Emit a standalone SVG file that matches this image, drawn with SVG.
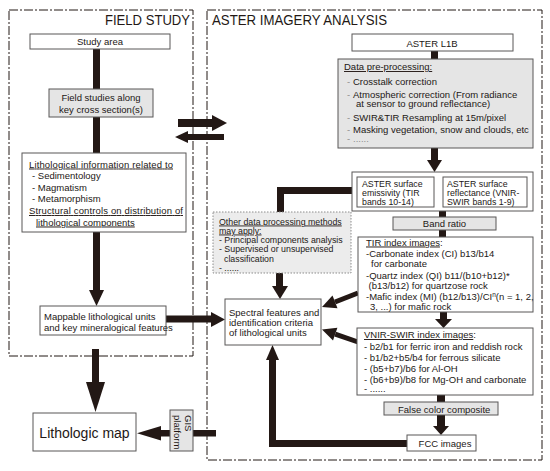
<svg xmlns="http://www.w3.org/2000/svg" width="550" height="471" viewBox="0 0 550 471">
<style>
.panel{fill:none;stroke:#231815;stroke-width:1;stroke-dasharray:9,2,2,2}
.box{fill:#fff;stroke:#595757;stroke-width:1}
.gbox{fill:#e5e5e5;stroke:#595757;stroke-width:1}
.dbox{fill:#ececec;stroke:#8c8c8c;stroke-width:1;stroke-dasharray:1.5,1.5}
.bar{fill:#231815}
.ln{fill:none;stroke:#231815;stroke-width:7}
.dl{fill:none;stroke:#231815;stroke-width:5}
text{font-family:"Liberation Sans",Arial,sans-serif;font-size:9.5px;fill:#231815}
.c{text-anchor:middle}
.u{text-decoration:underline}
.big{font-size:14px}
.gd{fill:#8c8c8c}
.s{font-size:8.8px}
</style>
<rect width="550" height="471" fill="#fff"/>
<g id="panels">
<rect class="panel" x="9" y="10" width="184" height="346"/>
<rect class="panel" x="207" y="10" width="335" height="450"/>
<text class="big" x="105" y="25" textLength="85" lengthAdjust="spacingAndGlyphs">FIELD STUDY</text>
<text class="big" x="212" y="25" textLength="175" lengthAdjust="spacingAndGlyphs">ASTER IMAGERY ANALYSIS</text>
</g>
<g id="connectors">
<rect class="bar" x="93" y="49" width="7" height="40"/>
<rect class="bar" x="93" y="117" width="7" height="36"/>
<rect class="bar" x="93" y="232" width="7" height="59"/>
<polygon class="bar" points="89,290 104,290 96.5,306"/>
<rect class="bar" x="166" y="315.5" width="47" height="7"/>
<polygon class="bar" points="211,312 211,327 225,319.5"/>
<rect class="bar" x="92" y="349" width="7" height="34"/>
<polygon class="bar" points="86,382 105,382 95.5,412"/>
<rect class="bar" x="178" y="119" width="35" height="8"/>
<polygon class="bar" points="212,115 212,131 227,123"/>
<rect class="bar" x="186" y="134" width="38" height="6"/>
<polygon class="bar" points="188,131 188,143 175,137"/>
<rect class="bar" x="431" y="51" width="7" height="8"/>
<rect class="bar" x="431" y="148" width="7" height="13"/>
<polygon class="bar" points="427,160 442,160 434.5,172"/>
<polyline class="ln" points="352,190.5 280.5,190.5 280.5,212"/>
<rect class="bar" x="439" y="211" width="7" height="6"/>
<rect class="bar" x="439" y="230" width="7" height="7"/>
<rect class="bar" x="276" y="273" width="7" height="14"/>
<polygon class="bar" points="272,286 288,286 280,299"/>
<line class="dl" x1="358" y1="293" x2="335" y2="302"/>
<polygon class="bar" points="332.5,295.6 337.5,308.2 322,307"/>
<line class="dl" x1="358" y1="342" x2="335.2" y2="334.1"/>
<polygon class="bar" points="337.4,327.8 333,340.4 322,329.5"/>
<rect class="bar" x="440" y="312" width="7" height="8"/>
<polygon class="bar" points="435,319 452,319 443.5,328"/>
<rect class="bar" x="437" y="395" width="8" height="7"/>
<rect class="bar" x="437" y="415" width="8" height="12"/>
<polygon class="bar" points="433,426 449,426 441,435"/>
<polyline class="ln" points="407,443.5 272.5,443.5 272.5,359"/>
<polygon class="bar" points="266,360 279,360 272.5,345"/>
<rect class="bar" x="159" y="430" width="57" height="6.5"/>
<polygon class="bar" points="161,426 161,440.5 137,433.2"/>
</g>
<g id="study-area">
<rect class="box" x="30" y="34" width="140" height="15"/>
<text class="c" x="100" y="45">Study area</text>
</g>
<g id="field-studies">
<rect class="gbox" x="49" y="89" width="104" height="28"/>
<text class="c" x="101" y="100.5">Field studies along</text>
<text class="c" x="101" y="112.5">key cross section(s)</text>
</g>
<g id="lith-info">
<rect class="box" x="22" y="153" width="164" height="79"/>
<text class="u" x="29" y="167.5" textLength="144">Lithological information related to</text>
<text x="32" y="179">- Sedimentology</text>
<text x="32" y="190.5">- Magmatism</text>
<text x="32" y="202">- Metamorphism</text>
<text class="u" x="29" y="214" textLength="154">Structural controls on distribution of</text>
<text class="u" x="36" y="225.5">lithological components</text>
</g>
<g id="mappable">
<rect class="box" x="40" y="306" width="126" height="29"/>
<text x="44" y="320">Mappable lithological units</text>
<text x="44" y="331">and key mineralogical features</text>
</g>
<g id="lithologic-map">
<rect class="box" x="33" y="413" width="103" height="38"/>
<text class="c big" x="84.5" y="437.5">Lithologic map</text>
</g>
<g id="gis">
<rect class="gbox" x="170" y="410" width="23" height="41"/>
<text transform="translate(184.5,415) rotate(90)">GIS</text>
<text transform="translate(174,415) rotate(90)">platform</text>
</g>
<g id="aster-l1b">
<rect class="box" x="352" y="34" width="161" height="17"/>
<text class="c" x="432" y="46.5">ASTER L1B</text>
</g>
<g id="preprocessing">
<rect class="gbox" x="338" y="59" width="195" height="89"/>
<text class="u" x="344" y="70">Data pre-processing:</text>
<text x="347" y="84.5"><tspan class="gd">-</tspan><tspan x="353">Crosstalk correction</tspan></text>
<text x="347" y="97.5"><tspan class="gd">-</tspan><tspan x="353">Atmospheric correction (From  radiance</tspan></text>
<text x="356" y="107">at sensor to ground reflectance)</text>
<text x="347" y="120.5"><tspan class="gd">-</tspan><tspan x="353">SWIR&amp;TIR  Resampling at 15m/pixel</tspan></text>
<text x="347" y="132.5"><tspan class="gd">-</tspan><tspan x="353">Masking vegetation, snow and clouds, etc</tspan></text>
<text class="gd" x="347" y="142">-<tspan x="353">......</tspan></text>
</g>
<g id="surface">
<rect class="box" x="352" y="172" width="181" height="39"/>
<rect class="box" x="357" y="177" width="77" height="30"/>
<rect class="box" x="443" y="177" width="84" height="30"/>
<text class="s" x="362" y="186.5">ASTER surface</text>
<text class="s" x="362" y="195.8">emissivity (TIR</text>
<text class="s" x="362" y="205">bands 10-14)</text>
<text class="s" x="447" y="186.5">ASTER surface</text>
<text class="s" x="447" y="195.8">reflectance (VNIR-</text>
<text class="s" x="447" y="205">SWIR bands 1-9)</text>
</g>
<g id="band-ratio">
<rect class="gbox" x="393" y="217" width="103" height="13"/>
<text class="c" x="444.5" y="227">Band ratio</text>
</g>
<g id="other-methods">
<rect class="dbox" x="213" y="212" width="138" height="61"/>
<text class="u s" x="219" y="224.5">Other data processing methods</text>
<text class="u s" x="219" y="233.5">may apply:</text>
<text class="s" x="219" y="243">- Principal components  analysis</text>
<text class="s" x="219" y="252.3">- Supervised or unsupervised</text>
<text class="s" x="224" y="261.5">classification</text>
<text class="s" x="219" y="270.5">- ......</text>
</g>
<g id="tir">
<rect class="box" x="358" y="237" width="175" height="75"/>
<text x="366" y="245.5"><tspan class="u">TIR index images</tspan>:</text>
<text x="366" y="257">-Carbonate index (CI) b13/b14</text>
<text x="371" y="267">for carbonate</text>
<text x="366" y="278.5">-Quartz index (QI) b11/(b10+b12)*</text>
<text x="368.5" y="288.5">(b13/b12) for quartzose rock</text>
<text x="366" y="299.5">-Mafic index (MI) (b12/b13)/CI<tspan dy="-3" font-size="6.5">n</tspan><tspan dy="3">(n = 1, 2,</tspan></text>
<text x="370" y="310.3">3, ...) for mafic rock</text>
</g>
<g id="spectral">
<rect class="box" x="225" y="299" width="96" height="46"/>
<text x="229" y="316">Spectral features and</text>
<text x="229" y="326">identification criteria</text>
<text x="229" y="336">of lithological units</text>
</g>
<g id="vnir">
<rect class="box" x="357" y="328" width="176" height="67"/>
<text x="364" y="338"><tspan class="u">VNIR-SWIR index images</tspan>:</text>
<text x="364" y="349.5">- b2/b1 for ferric iron and reddish rock</text>
<text x="364" y="360.5">- b1/b2+b5/b4 for ferrous silicate</text>
<text x="364" y="371.5">- (b5+b7)/b6 for Al-OH</text>
<text x="364" y="382.5">- (b6+b9)/b8 for Mg-OH and carbonate</text>
<text x="364" y="392">- ......</text>
</g>
<g id="false-color">
<rect class="gbox" x="384" y="402" width="114" height="13"/>
<text x="398" y="412.5">False color composite</text>
</g>
<g id="fcc">
<rect class="box" x="407" y="435" width="69" height="16"/>
<text class="c" x="445" y="446.5">FCC images</text>
</g>
</svg>
